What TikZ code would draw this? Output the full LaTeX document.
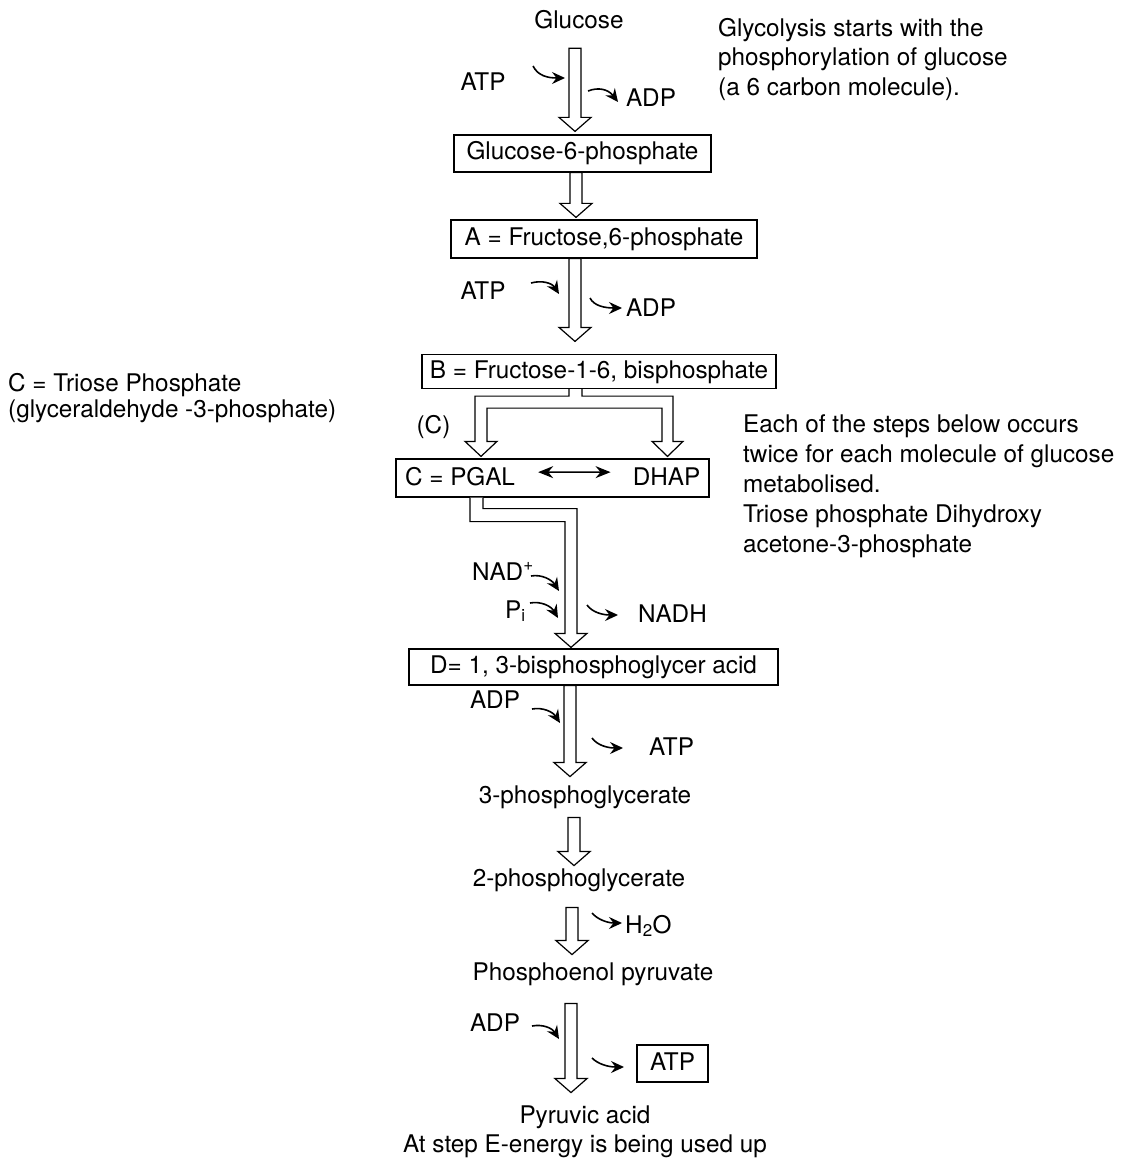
\documentclass[tikz,border=0pt]{standalone}
\usepackage{fontspec}
\setmainfont{TeX Gyre Heros}
\usepackage{tikz}
\usetikzlibrary{arrows.meta, calc}

% hollow block arrow: #1 = x of the shaft, #2 = start, #3 = tip
\newcommand{\blockarrow}[3]{%
  \draw[hollow] let \p1=#2, \p2=#3 in
    (#1pt-6pt,\y1) -- (#1pt-6pt,\y2+14pt) -- (#1pt-16pt,\y2+14pt) -- (#1pt,\y2)
    -- (#1pt+16pt,\y2+14pt) -- (#1pt+6pt,\y2+14pt) -- (#1pt+6pt,\y1) -- cycle;}

\begin{document}
\begin{tikzpicture}[
    x=1pt, y=-1pt,
    font=\fontsize{24.3}{29}\selectfont,
    lbl/.style={anchor=base, inner sep=0pt},
    note/.style={anchor=north west, inner sep=0pt, align=left},
    box/.style={draw, rectangle, line width=1.2pt, inner sep=0pt, text height=17.5pt, text depth=4.5pt, text centered},
    hollow/.style={draw, line width=1.2pt, fill=white, line join=miter},
    curv/.style={line width=1.6pt, -{Stealth[length=13pt, width=12pt, inset=4.5pt]}},
    dbl/.style={line width=1.6pt, {Stealth[length=15pt, width=12pt, inset=5pt]}-{Stealth[length=15pt, width=12pt, inset=5pt]}}
  ]
    \useasboundingbox (0,0) rectangle (1127,1158);

    % Phosphorylation of glucose
    \node[lbl] (glu) at (579,29) {Glucose};
    \node[note, font=\fontsize{24.3}{29.5}\selectfont] (note1) at (718,18) {Glycolysis starts with the\\phosphorylation of glucose\\(a 6 carbon molecule).};
    \node[lbl] (atp1) at (483,91) {ATP};
    \node[lbl] (adp1) at (651,107) {ADP};
    \node[box, minimum width=257pt, minimum height=37pt] (g6p) at (582.5,153.5) {Glucose-6-phosphate};
    \node[box, minimum width=306pt, minimum height=38pt] (fa) at (604,239) {A = Fructose,6-phosphate};
    \node[lbl] (atp2) at (483,299) {ATP};
    \node[lbl] (adp2) at (651,316) {ADP};
    \node[box, minimum width=354pt, minimum height=34pt] (fb) at (599,371.5) {B = Fructose-1-6, bisphosphate};

    % Splitting into triose phosphates
    \node[note, font=\fontsize{24.3}{26}\selectfont] (note2) at (8,373) {C = Triose Phosphate\\(glyceraldehyde -3-phosphate)};
    \node[lbl] (clbl) at (433.5,433) {(C)};
    \node[note, font=\fontsize{24.3}{30}\selectfont] (note3) at (743,415) {Each of the steps below occurs\\twice for each molecule of glucose\\metabolised.\\Triose phosphate Dihydroxy\\acetone-3-phosphate};
    \node[draw, rectangle, line width=1.2pt, minimum width=313pt, minimum height=38pt] (cbox) at (552.5,478) {};
    \node[lbl] (pgal) at (460,485) {C = PGAL};
    \node[lbl] (dhap) at (666.5,485) {DHAP};

    % Oxidation and ATP yield
    \node[lbl, anchor=base west] (nad) at (472,580) {NAD\textsuperscript{+}};
    \node[lbl, anchor=base west] (pi) at (505,618) {P\textsubscript{i}};
    \node[lbl, anchor=base west] (nadh) at (638,622) {NADH};
    \node[box, minimum width=369pt, minimum height=36pt] (fd) at (593.5,667) {D= 1, 3-bisphosphoglycer acid};
    \node[lbl] (adp3) at (495,708) {ADP};
    \node[lbl] (atp3) at (671.5,755) {ATP};
    \node[lbl] (pg3) at (585,803) {3-phosphoglycerate};
    \node[lbl] (pg2) at (579,886) {2-phosphoglycerate};
    \node[lbl, anchor=base west] (h2o) at (625,933) {H\textsubscript{2}O};
    \node[lbl] (pep) at (593,980) {Phosphoenol pyruvate};
    \node[lbl] (adp4) at (495,1031) {ADP};
    \node[box, minimum width=71pt, minimum height=37pt] (atp4) at (672.5,1063.5) {ATP};
    \node[lbl] (pyr) at (585,1123) {Pyruvic acid};
    \node[lbl] (endnote) at (585,1152) {At step E-energy is being used up};

    % block arrows
    \blockarrow{575}{([yshift=-18.7pt]glu.south)}{([yshift=3pt]g6p.north)}
    \blockarrow{576}{(g6p.south)}{([yshift=2pt]fa.north)}
    \blockarrow{575}{(fa.south)}{([yshift=12.5pt]fb.north)}
    \draw[hollow] let \p1=(fb.south), \p2=([yshift=2pt]cbox.north) in
      (569pt,\y1) -- (569pt,\y1-7pt) -- (475pt,\y1-7pt) -- (475pt,\y2+15pt) -- (465pt,\y2+15pt)
      -- (481pt,\y2) -- (497pt,\y2+15pt) -- (487pt,\y2+15pt) -- (487pt,\y1-19pt) -- (662pt,\y1-19pt)
      -- (662pt,\y2+15pt) -- (652pt,\y2+15pt) -- (667.5pt,\y2) -- (683pt,\y2+15pt) -- (673pt,\y2+15pt)
      -- (673pt,\y1-7pt) -- (582pt,\y1-7pt) -- (582pt,\y1);
    \draw[hollow] let \p1=(cbox.south), \p2=([yshift=1pt]fd.north) in
      (470pt,\y1) -- (470pt,\y1-24pt) -- (565pt,\y1-24pt) -- (565pt,\y2+14pt) -- (555pt,\y2+14pt)
      -- (571pt,\y2) -- (587pt,\y2+14pt) -- (577pt,\y2+14pt) -- (577pt,\y1-11pt) -- (483pt,\y1-11pt)
      -- (483pt,\y1);
    \blockarrow{570}{(fd.south)}{([yshift=8.5pt]pg3.north)}
    \blockarrow{574}{([yshift=-9pt]pg3.south)}{([yshift=2.5pt]pg2.north)}
    \blockarrow{572}{([yshift=-16pt]pg2.south)}{([yshift=7.5pt]pep.north)}
    \blockarrow{571}{([yshift=-18pt]pep.south)}{([yshift=12.5pt]pyr.north)}

    \draw[dbl] ([xshift=23pt,yshift=4pt]pgal.east) -- ([xshift=-22pt,yshift=4pt]dhap.west);

    % side reactants and products
    \draw[curv] (533,66) .. controls (538,76) and (548,78) .. (565,78);
    \draw[curv] (588,91) .. controls (598,87) and (608,89) .. (618,102);
    \draw[curv] (531,283) .. controls (542,280) and (552,283) .. (559,294);
    \draw[curv] (590,298) .. controls (594,306) and (605,308) .. (622,308);
    \draw[curv] (531,576) .. controls (542,574) and (552,580) .. (559,591);
    \draw[curv] (530,603) .. controls (541,601) and (551,606) .. (558,618);
    \draw[curv] (587,605) .. controls (592,612) and (602,615) .. (618,615);
    \draw[curv] (532,709) .. controls (543,707) and (553,712) .. (560,723);
    \draw[curv] (592,738) .. controls (597,745) and (607,748) .. (623,748);
    \draw[curv] (592,913) .. controls (597,919) and (607,923) .. (622,923);
    \draw[curv] (532,1026) .. controls (543,1024) and (552,1028) .. (559,1039);
    \draw[curv] (592,1058) .. controls (598,1064) and (608,1067) .. (624,1067);
  \end{tikzpicture}
\end{document}
